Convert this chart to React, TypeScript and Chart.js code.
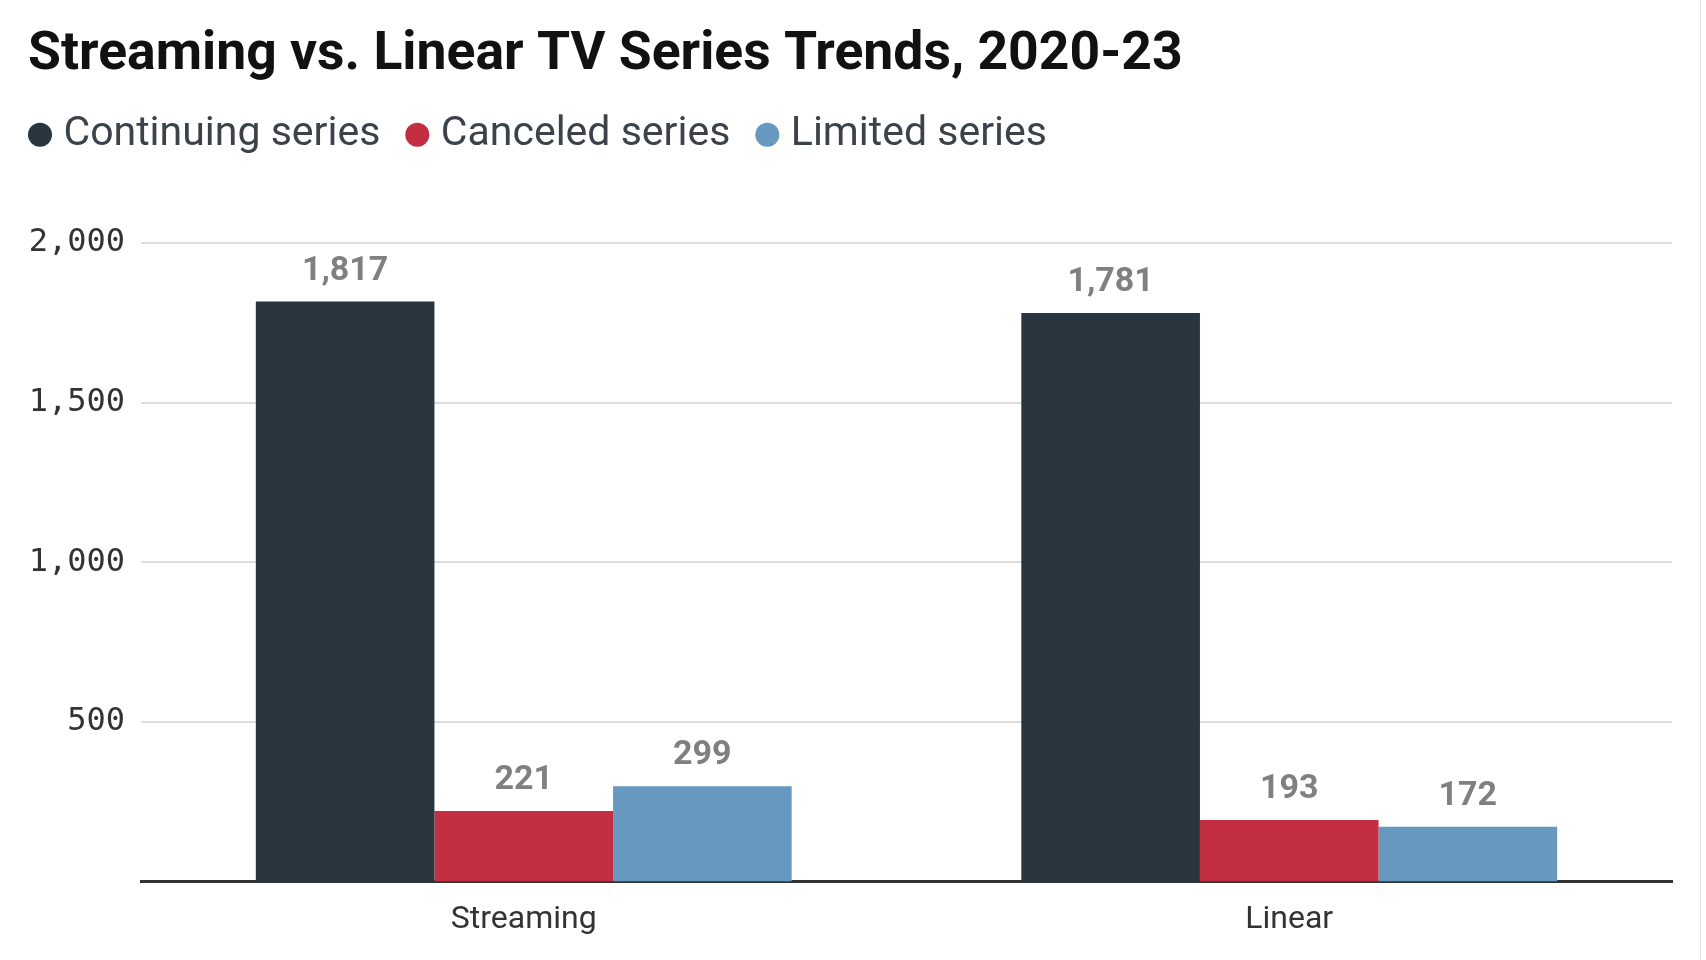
import React, { useEffect, useRef } from "react";
import { Chart, registerables } from "chart.js";

Chart.register(...registerables);

const categories = ["Streaming", "Linear"];
const seriesNames = ["Continuing series", "Canceled series", "Limited series"];
const continuingValues = [1817, 1781];
const canceledValues = [221, 193];
const limitedValues = [299, 172];
const yTickValues = [500, 1000, 1500, 2000];
const chartTitle = "Streaming vs. Linear TV Series Trends, 2020-23";

const layoutTweaks = {
  id: "layoutTweaks",
  beforeLayout(chart: any) {
    const leg = chart.legend;
    if (leg && !leg.__patched) {
      const orig = leg.fit.bind(leg);
      leg.fit = function () {
        orig();
        this.height += 78;
      };
      leg.__patched = true;
    }
  },
  afterLayout(chart: any) {
    if (chart.titleBlock) chart.titleBlock.left = 28;
    if (chart.legend) chart.legend.left = 3;
  },
};

const valueLabels = {
  id: "valueLabels",
  afterDatasetsDraw(chart: any) {
    const ctx = chart.ctx;
    ctx.save();
    ctx.font = "bold 34px Roboto";
    ctx.fillStyle = "#808080";
    ctx.textAlign = "center";
    ctx.textBaseline = "alphabetic";
    chart.data.datasets.forEach((ds: any, i: number) => {
      const meta = chart.getDatasetMeta(i);
      meta.data.forEach((el: any, j: number) => {
        const v = Number(ds.data[j]);
        ctx.fillText(v.toLocaleString("en-US"), el.x, el.y - 22);
      });
    });
    ctx.restore();
  },
};

export default function App() {
  const canvasRef = useRef<HTMLCanvasElement | null>(null);

  useEffect(() => {
    if (!canvasRef.current) return;
    const chart = new Chart(canvasRef.current, {
      type: "bar",
      data: {
        labels: categories,
        datasets: [
          {
            label: seriesNames[0],
            data: continuingValues,
            backgroundColor: "#29353f",
            borderWidth: 0,
            categoryPercentage: 0.7,
            barPercentage: 1.0,
          },
          {
            label: seriesNames[1],
            data: canceledValues,
            backgroundColor: "#c32e42",
            borderWidth: 0,
            categoryPercentage: 0.7,
            barPercentage: 1.0,
          },
          {
            label: seriesNames[2],
            data: limitedValues,
            backgroundColor: "#6798c0",
            borderWidth: 0,
            categoryPercentage: 0.7,
            barPercentage: 1.0,
          },
        ],
      },
      options: {
        animation: false,
        responsive: false,
        devicePixelRatio: 1,
        layout: { padding: { left: 0, right: 34, top: 0, bottom: 1 } },
        plugins: {
          title: {
            display: true,
            text: chartTitle,
            align: "start",
            color: "#111111",
            font: { family: "Roboto", size: 53.5, weight: "bold", lineHeight: 0.9 },
            padding: { top: 32, bottom: 0 },
          },
          legend: {
            display: true,
            position: "top",
            align: "start",
            labels: {
              usePointStyle: true,
              pointStyle: "circle",
              boxWidth: 6,
              boxHeight: 17,
              padding: 34,
              color: "#3b424a",
              font: { family: "Roboto", size: 41 },
            },
          },
          tooltip: { enabled: false },
        },
        scales: {
          x: {
            grid: { display: false, drawTicks: false },
            border: { display: true, color: "#333333", width: 3 },
            ticks: {
              color: "#333333",
              padding: 19.5,
              font: { family: "Roboto", size: 32, lineHeight: 1.2 },
            },
          },
          y: {
            min: 0,
            max: 2000,
            afterBuildTicks: (s: any) => {
              s.ticks = yTickValues.map((v) => ({ value: v }));
            },
            afterFit: (s: any) => {
              s.width = 141;
            },
            grid: { color: "#dcdcdc", lineWidth: 2, drawTicks: false },
            border: { display: false },
            ticks: {
              color: "#333333",
              padding: 16,
              font: { family: "DejaVu Sans Mono", size: 32 },
              callback: (v: any) => Number(v).toLocaleString("en-US"),
            },
          },
        },
      },
      plugins: [layoutTweaks, valueLabels],
    } as any);
    return () => chart.destroy();
  }, []);

  return (
    <div
      style={{
        position: "absolute",
        left: 0,
        top: 0,
        width: 1706,
        height: 960,
        background: "#ffffff",
      }}
    >
      <canvas ref={canvasRef} width={1706} height={960} style={{ display: "block" }} />
      <div
        style={{
          position: "absolute",
          left: 1700,
          top: 0,
          width: 1,
          height: 960,
          background: "#e2e2e2",
        }}
      />
    </div>
  );
}
